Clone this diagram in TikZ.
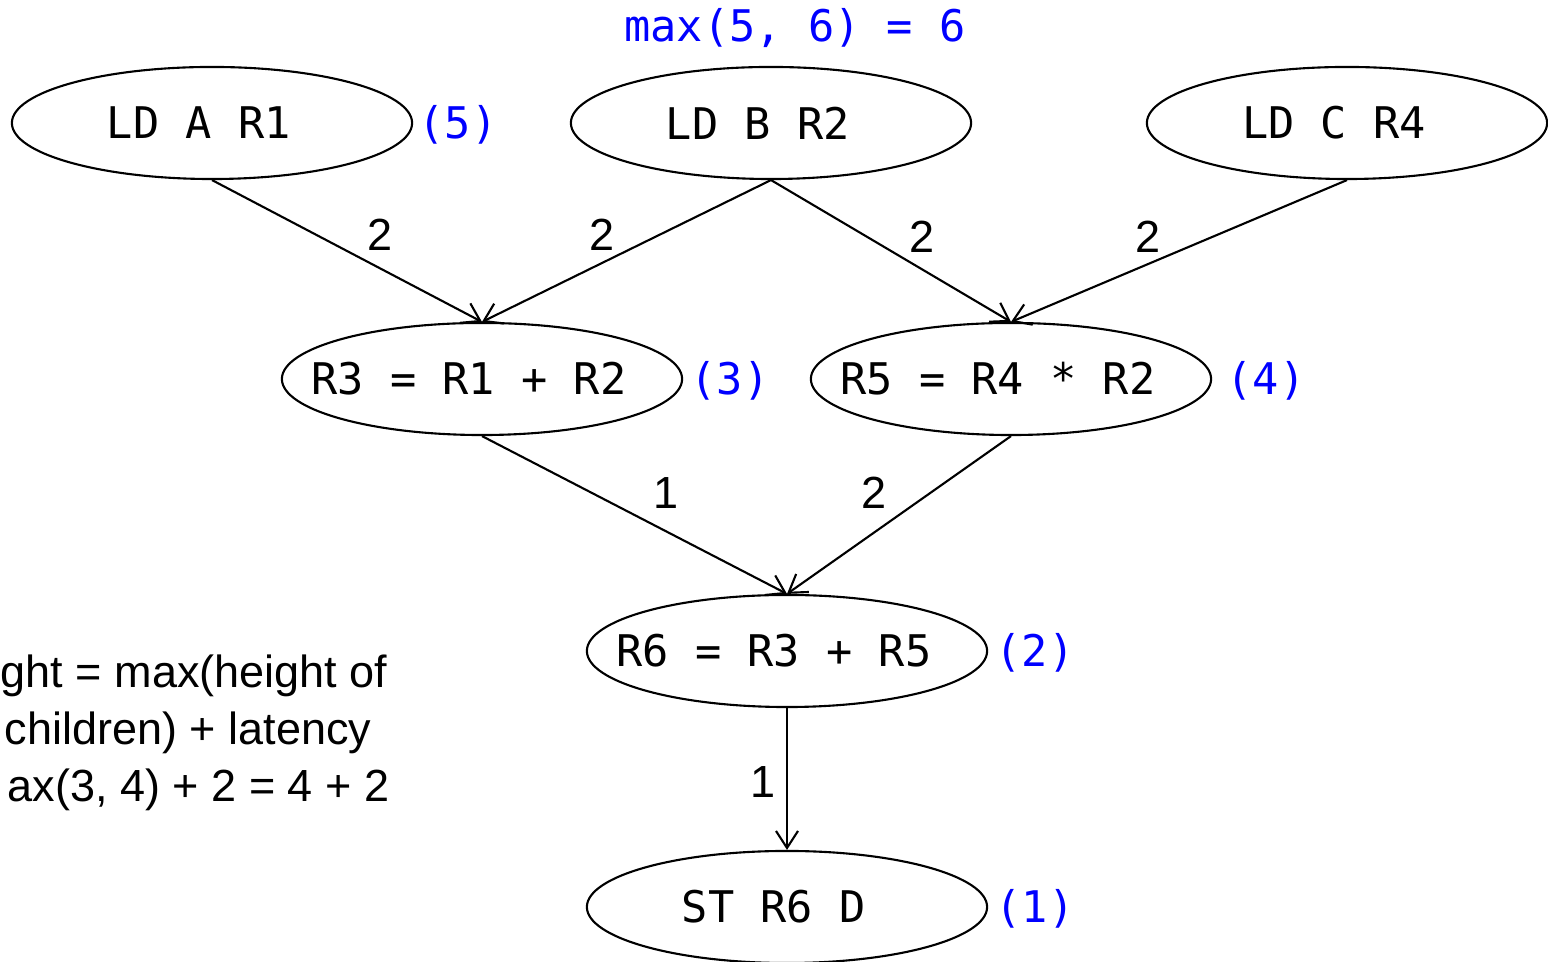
\documentclass[tikz,border=0pt]{standalone}
\usepackage{fontspec}
\setmainfont{Liberation Sans}
\setmonofont{DejaVu Sans Mono}
\usetikzlibrary{shapes.geometric,arrows.meta}
\begin{document}
\begin{tikzpicture}[x=0.01cm,y=-0.01cm,
  op/.style={ellipse,draw,line width=0.6pt,minimum width=4cm,minimum height=1.12cm,inner sep=0pt},
  optext/.style={inner sep=0pt,font=\ttfamily\fontsize{12.4}{14}\selectfont},
  hgt/.style={text=blue,anchor=base west,inner sep=0pt,font=\ttfamily\fontsize{12.4}{14}\selectfont},
  lat/.style={font=\fontsize{12.8}{15}\selectfont,inner sep=0pt},
  note/.style={font=\fontsize{12.8}{15}\selectfont,anchor=base east,inner sep=0pt},
  dep/.style={line width=0.6pt,-{Straight Barb[length=0.17cm,width=0.22cm,line width=0.6pt]}}]
\useasboundingbox (0,0) rectangle (1548,962);
% nodes
\node[op] (a)  at (212,123)  {};
\node[op] (b)  at (771,123)  {};
\node[op] (c)  at (1347,123) {};
\node[op] (r3) at (482,379)  {};
\node[op] (r5) at (1011,379) {};
\node[op] (r6) at (787,651)  {};
\node[op] (st) at (787,907)  {};
\node[optext] (ta)  at (a)  {LD A R1\hphantom{0}};
\node[optext] (tb)  at (b)  {LD B R2\hphantom{0}};
\node[optext] (tc)  at (c)  {LD C R4\hphantom{0}};
\node[optext] (tr3) at (r3) {R3 = R1 + R2\hphantom{0}};
\node[optext] (tr5) at (r5) {R5 = R4 * R2\hphantom{0}};
\node[optext] (tr6) at (r6) {R6 = R3 + R5\hphantom{0}};
\node[optext] (tst) at (st) {ST R6 D\hphantom{0}};
% heights
\node[hgt] (ha)  at (418,139)  {(5)};
\node[hgt] (hr3) at (690,395)  {(3)};
\node[hgt] (hr5) at (1226,395) {(4)};
\node[hgt] (hr6) at (995,667)  {(2)};
\node[hgt] (hst) at (995,923)  {(1)};
\node[text=blue,anchor=base,inner sep=0pt,font=\ttfamily\fontsize{12.4}{14}\selectfont] (hb) at (795,42) {max(5, 6) = 6};
% edges
\draw[dep] (a.south)  -- (r3.north);
\draw[dep] (b.south)  -- (r3.north);
\draw[dep] (b.south)  -- (r5.north);
\draw[dep] (c.south)  -- (r5.north);
\draw[dep] (r3.south) -- (r6.north);
\draw[dep] (r5.south) -- (r6.north);
\draw[dep] (r6.south) -- (st.north);
% latencies
\node[lat] (l1) at (380,235)  {2};
\node[lat] (l2) at (602,235)  {2};
\node[lat] (l3) at (922,237)  {2};
\node[lat] (l4) at (1148,237) {2};
\node[lat] (l5) at (666,493)  {1};
\node[lat] (l6) at (874,493)  {2};
\node[lat] (l7) at (763,782)  {1};
% note
\node[note] (n1) at (388,688) {ght = max(height of};
\node[note] (n2) at (372,745) {children) + latency};
\node[note] (n3) at (390,802) {ax(3, 4) + 2 = 4 + 2};
\end{tikzpicture}
\end{document}
